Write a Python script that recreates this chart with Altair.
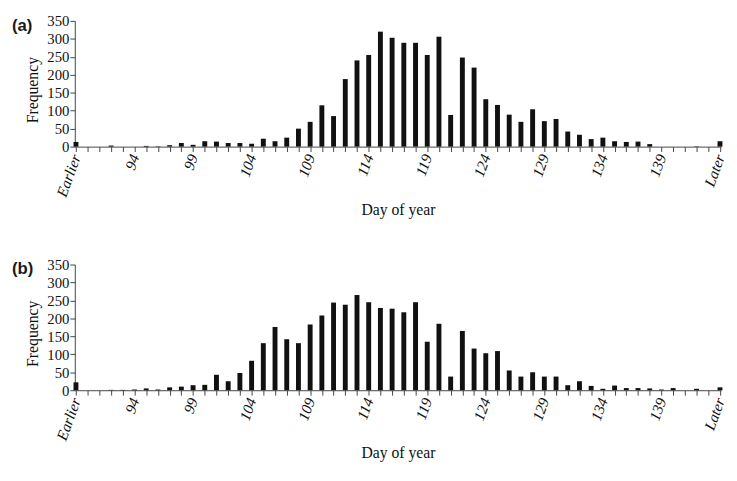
import altair as alt
import pandas as pd

# Categories: Earlier, days 90..143, Later
days = ["Earlier"] + [str(d) for d in range(90, 144)] + ["Later"]
tick_labels = ["Earlier", "94", "99", "104", "109", "114", "119", "124",
               "129", "134", "139", "Later"]

freq_a = [13, 0, 0, 3, 0, 0, 2, 1, 4, 10,
          5, 15, 14, 10, 10, 8, 22, 15, 25, 50,
          69, 115, 85, 188, 240, 255, 320, 303, 289, 289,
          255, 306, 88, 248, 220, 132, 116, 89, 69, 104,
          71, 77, 42, 33, 21, 25, 15, 13, 14, 7,
          0, 0, 0, 1, 0, 15]

freq_b = [22, 0, 0, 1, 1, 2, 5, 2, 8, 10,
          14, 15, 43, 25, 48, 82, 131, 176, 142, 131,
          183, 208, 244, 238, 265, 245, 229, 227, 217, 245,
          135, 185, 38, 165, 116, 103, 109, 55, 38, 50,
          38, 38, 14, 25, 12, 4, 13, 6, 6, 5,
          2, 6, 0, 4, 0, 8]

label_list = "[" + ",".join("'%s'" % t for t in tick_labels) + "]"
SERIF = "Liberation Serif"


def panel(values, tag):
    df = pd.DataFrame({"day": days, "freq": values})
    return alt.Chart(df).mark_bar(width=5, color="#111111").encode(
        x=alt.X(
            "day:N", sort=days,
            scale=alt.Scale(type="point", padding=0.1),
            axis=alt.Axis(
                title="Day of year",
                values=days,
                labelExpr="indexof(%s, datum.value) >= 0 ? datum.value : ''" % label_list,
                labelAngle=-70, labelAlign="right", labelBaseline="middle",
                labelFont=SERIF, labelFontStyle="italic", labelFontSize=15.5,
                labelColor="#111111", labelPadding=3, labelOverlap=False,
                tickSize=5, tickColor="#444444", domainColor="#444444",
                titleFont=SERIF, titleFontSize=16, titleFontWeight="normal",
                titleColor="#111111", titleY=64, titleBaseline="middle",
            ),
        ),
        y=alt.Y(
            "freq:Q",
            scale=alt.Scale(domain=[0, 350], nice=False),
            axis=alt.Axis(
                title="Frequency",
                values=list(range(0, 351, 50)),
                grid=False,
                labelFont=SERIF, labelFontSize=15, labelColor="#111111",
                labelPadding=1, tickSize=5, tickColor="#444444",
                domainColor="#444444",
                titleFont=SERIF, titleFontSize=16, titleFontWeight="normal",
                titleColor="#111111", titleX=-43, titleY=70,
                titleAngle=-90, titleAlign="center", titleBaseline="middle",
            ),
        ),
    ).properties(
        width=658, height=128,
        title=alt.TitleParams(
            text=tag, anchor="start", frame="group", orient="top",
            font="Liberation Sans", fontSize=17, fontWeight="bold",
            color="#1a1a1a", baseline="top", dx=-64, dy=19, offset=-2,
        ),
    )


chart = alt.vconcat(
    panel(freq_a, "(a)"), panel(freq_b, "(b)"),
    spacing=120, bounds="flush",
).properties(
    padding={"left": 4, "top": 2, "right": 1, "bottom": 0},
).configure_view(stroke=None)

chart.save("out.html", embed_options={"renderer": "svg", "actions": False})
